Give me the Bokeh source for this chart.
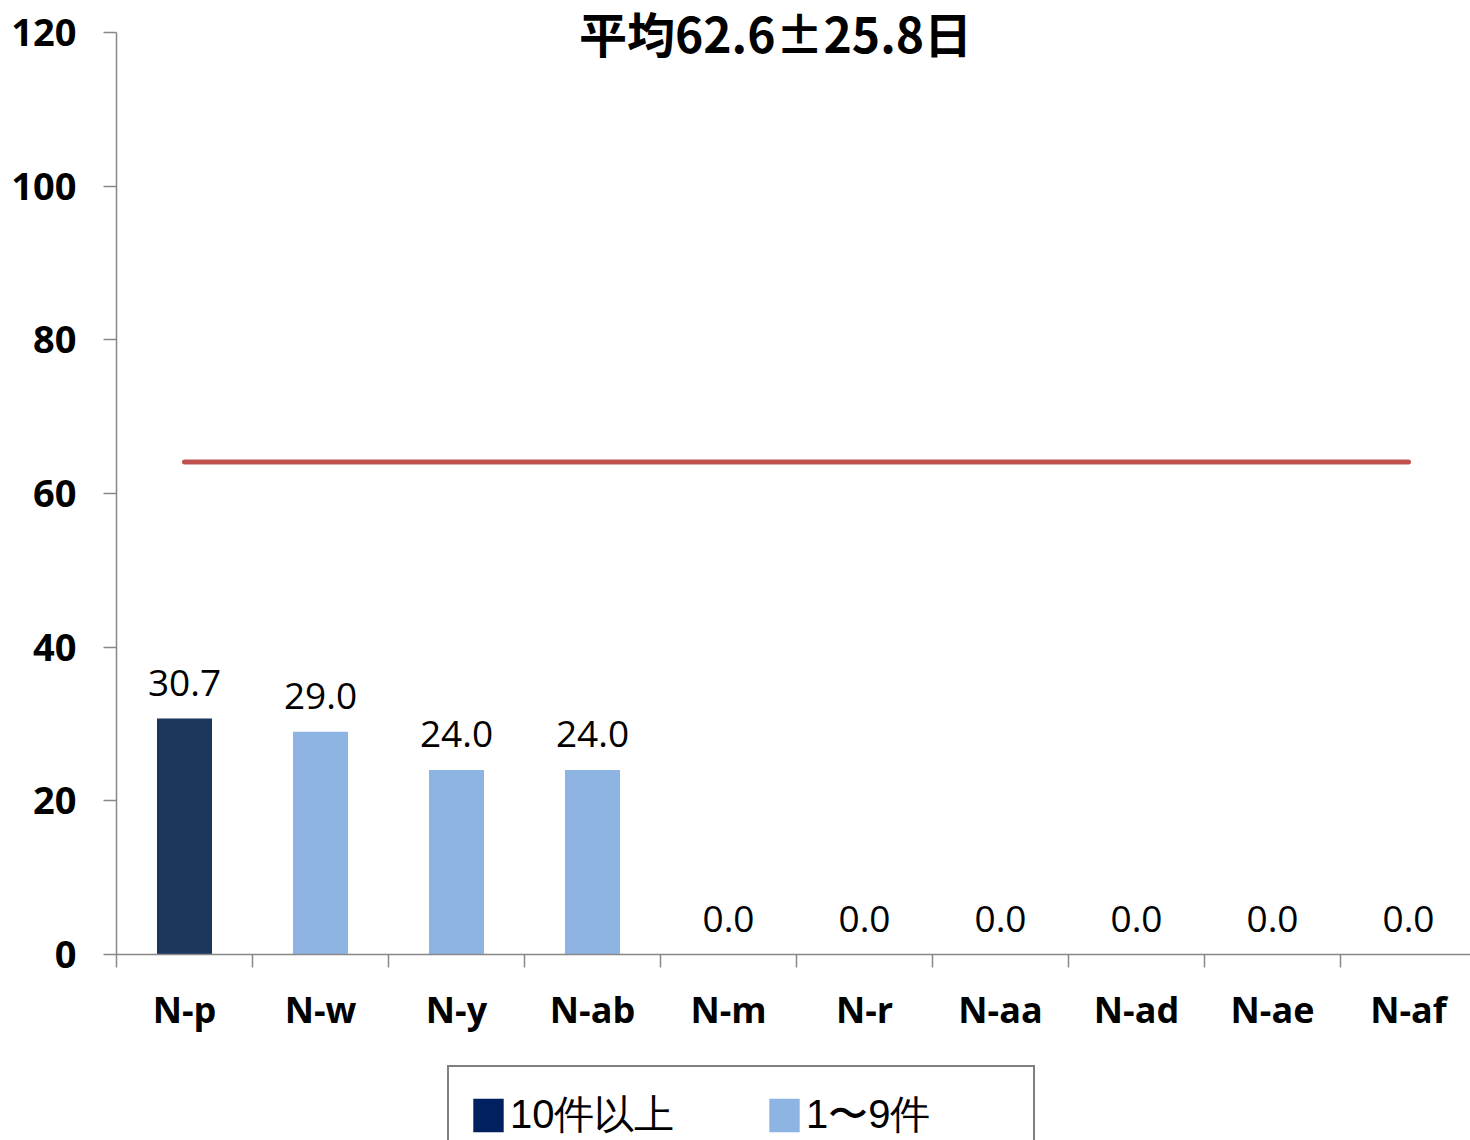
from bokeh.plotting import figure
from bokeh.layouts import column, row
from bokeh.models import (Range1d, FixedTicker, Label, Legend, LegendItem,
                          ColumnDataSource, Spacer)
from bokeh.core.properties import value
from bokeh.embed import file_html
from bokeh.resources import INLINE

# ---- data ----
categories = ["N-p", "N-w", "N-y", "N-ab", "N-m", "N-r", "N-aa", "N-ad", "N-ae", "N-af"]
days = [30.7, 29.0, 24.0, 24.0, 0.0, 0.0, 0.0, 0.0, 0.0, 0.0]
groups = ["10件以上", "1〜9件", "1〜9件", "1〜9件", "1〜9件",
          "1〜9件", "1〜9件", "1〜9件", "1〜9件", "1〜9件"]
legend_labels = ["10件以上", "1〜9件"]
mean_line_value = 64.1
title_text = "平均62.6±25.8日"
y_ticks = [0, 20, 40, 60, 80, 100, 120]
y_max = 120

# ---- styles ----
bar_colors = {"10件以上": "#1b375d", "1〜9件": "#8eb4e3"}
legend_colors = {"10件以上": "#002060", "1〜9件": "#8db4e2"}
AXIS_GRAY = "#888888"
LABEL_FONT = "Open Sans"

W = 1470
H_MAIN, H_LEG = 1064, 76
LEFT = 116
FRAME_H = 954             # frame from canvas top to the x axis
AXIS_TOP_PX = 32          # gap between canvas top and the y=120 tick
SLOT_PX = 136
LEG_LEFT = 447

centers = [i + 0.5 for i in range(len(categories))]
x_end = (W - LEFT) / SLOT_PX
y_end = y_max * FRAME_H / (FRAME_H - AXIS_TOP_PX)

p = figure(width=W, height=H_MAIN, output_backend="svg", toolbar_location=None,
           x_range=Range1d(0, x_end), y_range=Range1d(0, y_end),
           min_border_left=LEFT, min_border_right=0,
           min_border_top=0, min_border_bottom=H_MAIN - FRAME_H)
p.outline_line_color = None
p.xgrid.visible = False
p.ygrid.visible = False
p.background_fill_color = "white"
p.border_fill_color = "white"

# bars per group
sources = {}
for g in legend_labels:
    idx = [i for i, gg in enumerate(groups) if gg == g]
    src = ColumnDataSource(dict(x=[centers[i] for i in idx],
                                top=[days[i] for i in idx]))
    sources[g] = src
    p.vbar(x="x", top="top", width=55 / SLOT_PX, source=src,
           fill_color=bar_colors[g], line_color=None)

# mean line
p.line(x=[centers[0], centers[-1]], y=[mean_line_value, mean_line_value],
       line_color="#c0504d", line_width=5, line_cap="round")

# value labels
lab_src = ColumnDataSource(dict(x=centers, y=days,
                                t=[f"{v:.1f}" for v in days]))
p.text(x="x", y="y", text="t", source=lab_src, text_align="center",
       text_baseline="middle", y_offset=-36, text_font=value(LABEL_FONT),
       text_font_size="37px", text_color="black")

# title
p.add_layout(Label(x=659, y=FRAME_H - 31, x_units="screen", y_units="screen",
                   text=title_text, text_align="center", text_baseline="middle",
                   text_font="Noto Sans CJK JP", text_font_style="bold",
                   text_font_size="48px", text_color="black"))

# x axis
xa = p.xaxis[0]
xa.ticker = FixedTicker(ticks=centers, minor_ticks=list(range(len(categories) + 1)))
xa.major_label_overrides = {c: n for c, n in zip(centers, categories)}
xa.major_tick_out = 0
xa.major_tick_in = 0
xa.minor_tick_out = 13
xa.minor_tick_in = 0
xa.minor_tick_line_color = AXIS_GRAY
xa.minor_tick_line_width = 1.5
xa.axis_line_color = AXIS_GRAY
xa.axis_line_width = 1.5
xa.major_label_text_font = LABEL_FONT
xa.major_label_text_font_style = "bold"
xa.major_label_text_font_size = "36px"
xa.major_label_text_color = "black"
xa.major_label_standoff = 17

# y axis
ya = p.yaxis[0]
ya.ticker = FixedTicker(ticks=y_ticks)
ya.bounds = (0, y_max)
ya.major_tick_out = 13
ya.major_tick_in = 0
ya.minor_tick_out = 0
ya.minor_tick_in = 0
ya.major_tick_line_color = AXIS_GRAY
ya.major_tick_line_width = 1.5
ya.axis_line_color = AXIS_GRAY
ya.axis_line_width = 1.5
ya.major_label_text_font = LABEL_FONT
ya.major_label_text_font_style = "bold"
ya.major_label_text_font_size = "38px"
ya.major_label_text_color = "black"
ya.major_label_standoff = 27

# legend strip below the chart (its bars lie outside this strip's ranges)
lf = figure(width=W - LEG_LEFT, height=H_LEG, output_backend="svg",
            toolbar_location=None, x_axis_type=None, y_axis_type=None,
            x_range=Range1d(-2, -1), y_range=Range1d(-2, -1), min_border=0)
lf.outline_line_color = None
lf.xgrid.visible = False
lf.ygrid.visible = False
lf.background_fill_color = "white"
lf.border_fill_color = "white"
items = []
for g in legend_labels:
    r = lf.vbar(x="x", top="top", width=0.4, source=sources[g],
                fill_color=legend_colors[g], line_color=None)
    items.append(LegendItem(label=g, renderers=[r]))
legend = Legend(items=items, location="top_left", orientation="horizontal",
                glyph_width=38, glyph_height=42, label_standoff=3,
                label_width=207, label_height=40, spacing=48, padding=20,
                margin=1, border_line_color="black", border_line_width=2,
                background_fill_color="white", background_fill_alpha=1,
                label_text_font="Liberation Sans",
                label_text_font_size="40px", label_text_color="black",
                label_text_line_height=0.8)
lf.add_layout(legend)

layout = column(p, row(Spacer(width=LEG_LEFT - 1, height=H_LEG), lf, spacing=0),
                spacing=0)
open("out.html", "w").write(file_html(layout, INLINE))
